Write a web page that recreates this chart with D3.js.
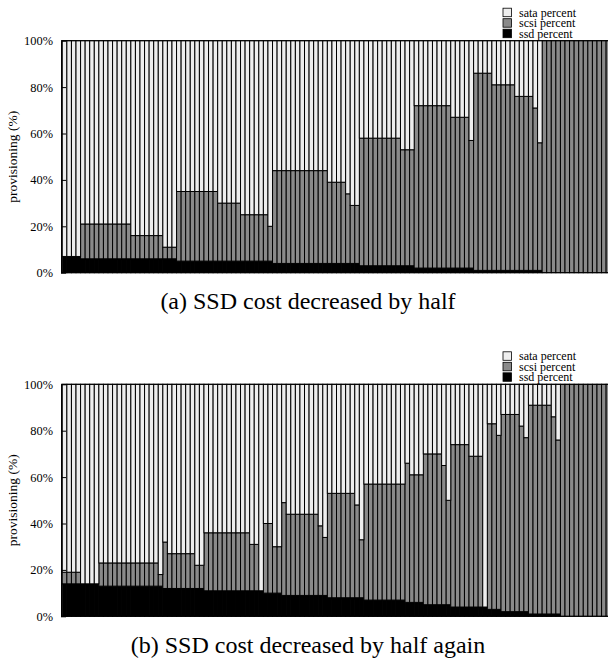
<!DOCTYPE html>
<html>
<head>
<meta charset="utf-8">
<script src="https://d3js.org/d3.v7.min.js"></script>
<style>
body { margin: 0; background: #fff; }
svg text { font-family: "Liberation Serif", "Times New Roman", Times, "DejaVu Serif", serif; fill: #000; }
</style>
</head>
<body>
<script>
var width = 608, height = 661;

// shares per run in percent (ssd and scsi, sata = the rest up to 100)
// (a) SSD cost decreased by half
var ssdA = [
    7, 7, 7, 7,
    6, 6, 6, 6, 6, 6, 6, 6, 6, 6, 6, 6, 6, 6, 6, 6, 6, 6, 6, 6, 6,
    5, 5, 5, 5, 5, 5, 5, 5, 5, 5, 5, 5, 5, 5, 5, 5, 5, 5, 5, 5, 5,
    4, 4, 4, 4, 4, 4, 4, 4, 4, 4, 4, 4, 4, 4, 4, 4, 4, 4, 4,
    3, 3, 3, 3, 3, 3, 3, 3, 3, 3, 3, 3,
    2, 2, 2, 2, 2, 2, 2, 2, 2, 2, 2, 2, 2,
    1, 1, 1, 1, 1, 1, 1, 1, 1, 1, 1, 1, 1, 1, 1,
    0, 0, 0, 0, 0, 0, 0, 0, 0, 0, 0, 0, 0, 0, 0
];
var scsiA = [
    0, 0, 0, 0,
    15, 15, 15, 15, 15, 15, 15, 15, 15, 15, 15,
    10, 10, 10, 10, 10, 10, 10,
    5, 5, 5,
    30, 30, 30, 30, 30, 30, 30, 30, 30,
    25, 25, 25, 25, 25,
    20, 20, 20, 20, 20, 20,
    15,
    40, 40, 40, 40, 40, 40, 40, 40, 40, 40, 40, 40,
    35, 35, 35, 35,
    30,
    25, 25,
    55, 55, 55, 55, 55, 55, 55, 55, 55,
    50, 50, 50,
    70, 70, 70, 70, 70, 70, 70, 70,
    65, 65, 65, 65,
    55,
    85, 85, 85, 85,
    80, 80, 80, 80, 80,
    75, 75, 75, 75,
    70,
    55,
    100, 100, 100, 100, 100, 100, 100, 100, 100, 100, 100, 100, 100, 100, 100
];

// (b) SSD cost decreased by half again
var ssdB = [
    14, 14, 14, 14, 14, 14, 14, 14,
    13, 13, 13, 13, 13, 13, 13, 13, 13, 13, 13, 13, 13, 13,
    12, 12, 12, 12, 12, 12, 12, 12, 12,
    11, 11, 11, 11, 11, 11, 11, 11, 11, 11, 11, 11, 11,
    10, 10, 10, 10,
    9, 9, 9, 9, 9, 9, 9, 9, 9, 9,
    8, 8, 8, 8, 8, 8, 8, 8,
    7, 7, 7, 7, 7, 7, 7, 7, 7,
    6, 6, 6, 6,
    5, 5, 5, 5, 5, 5,
    4, 4, 4, 4, 4, 4, 4, 4,
    3, 3, 3,
    2, 2, 2, 2, 2, 2,
    1, 1, 1, 1, 1, 1, 1,
    0, 0, 0, 0, 0, 0, 0, 0, 0, 0, 0
];
var scsiB = [
    5, 5, 5, 5,
    0, 0, 0, 0,
    10, 10, 10, 10, 10, 10, 10, 10, 10, 10, 10, 10, 10,
    5,
    20,
    15, 15, 15, 15, 15, 15,
    10, 10,
    25, 25, 25, 25, 25, 25, 25, 25, 25, 25,
    20, 20,
    0,
    30, 30,
    20, 20,
    40,
    35, 35, 35, 35, 35, 35, 35,
    30,
    25,
    45, 45, 45, 45, 45, 45,
    40,
    25,
    50, 50, 50, 50, 50, 50, 50, 50, 50,
    60,
    55, 55, 55,
    65, 65, 65, 65,
    60,
    45,
    70, 70, 70, 70,
    65, 65, 65,
    0,
    80, 80,
    75,
    85, 85, 85, 85,
    80,
    75,
    90, 90, 90, 90, 90,
    85,
    75,
    100, 100, 100, 100, 100, 100, 100, 100, 100, 100, 100
];

var keys = ["ssd", "scsi", "sata"];
var legendKeys = ["sata", "scsi", "ssd"];
var legendLabels = ["sata percent", "scsi percent", "ssd percent"];
var yTicks = [0, 20, 40, 60, 80, 100];
var captions = ["(a) SSD cost decreased by half", "(b) SSD cost decreased by half again"];

var colors = {ssd: "#000000", scsi: "#8a8a8a", sata: "#eeeeee"};

var svg = d3.select("body").append("svg")
    .attr("width", width)
    .attr("height", height);

// one band per run, the last one runs a little past the picture edge
var xScale = d3.scaleBand()
    .domain(d3.range(ssdA.length))
    .range([62.3, 610.7])
    .padding(0);

var plotLeft = 61, plotRight = 611, plotH = 232;

function drawPanel(top, ssd, scsi, caption) {
    var g = svg.append("g").attr("transform", "translate(0," + top + ")");

    var yScale = d3.scaleLinear().domain([0, 100]).range([plotH, 0]);

    var rows = ssd.map(function(d, i) {
        return {i: i, ssd: d, scsi: scsi[i], sata: 100 - d - scsi[i]};
    });
    var series = d3.stack().keys(keys)(rows);

    g.selectAll(".layer")
        .data(series)
        .enter()
        .append("g")
        .attr("class", "layer")
        .attr("fill", function(s) { return colors[s.key]; })
        .selectAll("rect")
        .data(function(s) { return s.filter(function(d) { return d[1] > d[0]; }); })
        .enter()
        .append("rect")
        .attr("x", function(d) { return xScale(d.data.i); })
        .attr("y", function(d) { return yScale(d[1]); })
        .attr("width", xScale.bandwidth())
        .attr("height", function(d) { return yScale(d[0]) - yScale(d[1]); })
        .attr("stroke", "#000")
        .attr("stroke-width", 1);

    // frame top and bottom
    g.append("line")
        .attr("x1", plotLeft).attr("x2", plotRight)
        .attr("y1", yScale(100)).attr("y2", yScale(100))
        .attr("stroke", "#000");
    g.append("line")
        .attr("x1", plotLeft).attr("x2", plotRight)
        .attr("y1", yScale(0)).attr("y2", yScale(0))
        .attr("stroke", "#000");

    // y axis, ticks point inwards like gnuplot
    var yAxis = d3.axisLeft(yScale)
        .tickValues(yTicks)
        .tickFormat(function(d) { return d + "%"; })
        .tickSizeInner(-5)
        .tickSizeOuter(0)
        .tickPadding(8);

    var gy = g.append("g")
        .attr("transform", "translate(" + plotLeft + ",0)")
        .call(yAxis)
        .attr("font-family", null)
        .attr("font-size", null);
    gy.select(".domain").attr("stroke", "#000");
    gy.selectAll(".tick line").attr("stroke", "#000");
    gy.selectAll(".tick text").style("font-size", "12.4px");

    g.append("text")
        .text("provisioning (%)")
        .attr("transform", "translate(17," + (plotH / 2) + ") rotate(-90)")
        .attr("text-anchor", "middle")
        .style("font-size", "13.5px");

    // legend above the top right corner, rows packed tight as in the original
    var leg = g.append("g")
        .selectAll("g")
        .data(legendKeys)
        .enter()
        .append("g")
        .attr("transform", function(d, i) { return "translate(503," + (-32.5 + i * 10.5) + ")"; });
    leg.append("rect")
        .attr("width", 8.5)
        .attr("height", 8.5)
        .attr("fill", function(d) { return colors[d]; })
        .attr("stroke", "#000")
        .attr("stroke-width", 0.8);
    leg.append("text")
        .attr("x", 16)
        .attr("y", 8.3)
        .style("font-size", "12px")
        .text(function(d, i) { return legendLabels[i]; });

    g.append("text")
        .text(caption)
        .attr("x", 308)
        .attr("y", plotH + 36.4)
        .attr("text-anchor", "middle")
        .style("font-size", "24px");
}

drawPanel(40.7, ssdA, scsiA, captions[0]);
drawPanel(384.3, ssdB, scsiB, captions[1]);
</script>
</body>
</html>
